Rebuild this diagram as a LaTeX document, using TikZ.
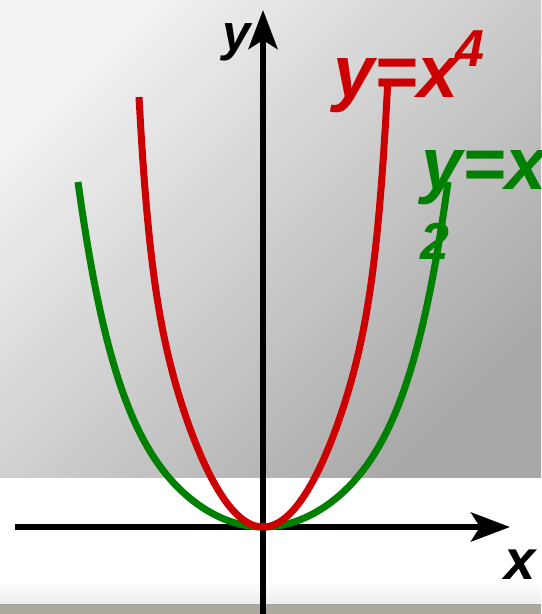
\documentclass[tikz,border=0pt]{standalone}
\usepackage{fontspec}
\setmainfont{Liberation Sans}
\usepackage{tikz}
\usetikzlibrary{arrows.meta, positioning}
\definecolor{curvered}{RGB}{204,0,0}
\definecolor{curvegreen}{RGB}{0,128,0}
\definecolor{floorbeige}{RGB}{172,168,158}
\tikzset{
    axisline/.style={line width=0.12cm, -{Stealth[length=0.78cm, width=0.58cm, inset=0.18cm]}},
    curveline/.style={line width=0.14cm},
    funclabel/.style={inner sep=0pt, anchor=base west, font=\bfseries\itshape\fontsize{42}{46}\selectfont},
    explabel/.style={inner sep=0pt, anchor=base west, font=\bfseries\itshape\fontsize{29.6}{32}\selectfont},
    axislabel/.style={inner sep=0pt, anchor=base west, font=\bfseries\itshape}
}

\begin{document}
\begin{tikzpicture}[x=0.02cm, y=-0.02cm]
        % Cadre
        \clip (0,0) rectangle (541,614);

        % --- Fond ---
        \shade[top color=black!5, bottom color=black!34, shading angle=45] (0,0) rectangle (541,478);
        \fill[white] (0,478) rectangle (541,580);
        \shade[top color=white, bottom color=black!7] (0,580) rectangle (541,604);
        \fill[black!35] (0,603.5) rectangle (541,605.5);
        \fill[floorbeige] (0,605.5) rectangle (541,614);

        % --- Axes ---
        \coordinate (xstart) at (15,527);
        \coordinate (xend) at (510,527);
        \coordinate (ystart) at (263,614);
        \coordinate (yend) at (263,10);
        \draw[axisline] (xstart) -- (xend);
        \draw[axisline] (ystart) -- (yend);

        % --- Courbe y=x^2 ---
        \draw[curveline, curvegreen] plot[domain=-185:185, samples=120]
            ({263+\x}, {527-180*(\x/185)^2-165*(\x/185)^6});

        % --- Courbe y=x^4 ---
        \draw[curveline, curvered] plot[domain=-124:124.6, samples=120]
            ({263+\x}, {527-283.6*(\x/124)^2-146.4*(\x/124)^12});

        % --- Etiquettes ---
        \node[axislabel, font=\bfseries\itshape\fontsize{29}{32}\selectfont] (labely) at (222,51) {y};
        \node[axislabel, font=\bfseries\itshape\fontsize{31.9}{34}\selectfont] (labelx) at (504,579) {x};

        \node[funclabel, curvered] (labred) at (333,98) {y=x};
        \node[explabel, curvered] (labredexp) at (455,67) {4};

        \node[funclabel, curvegreen] (labgreen) at (421,190) {y=x};
        \node[explabel, curvegreen] (labgreenexp) at (420,260) {2};
    \end{tikzpicture}
\end{document}
